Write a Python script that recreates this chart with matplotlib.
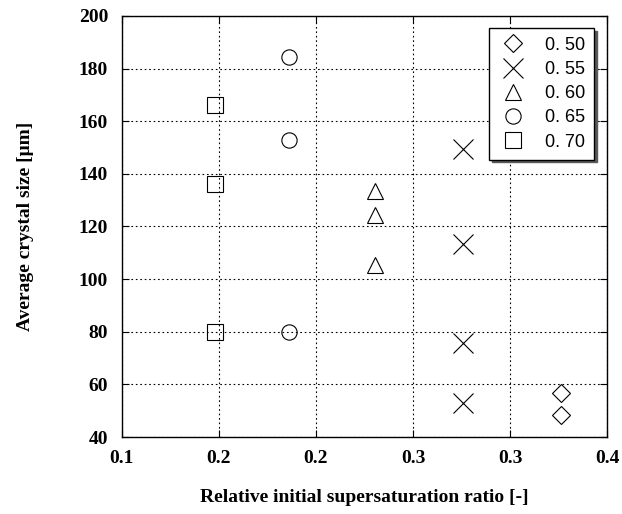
import matplotlib
matplotlib.use("Agg")
import matplotlib.pyplot as plt
from matplotlib.ticker import FixedLocator, FuncFormatter

# data
labels = ["0. 50", "0. 55", "0. 60", "0. 65", "0. 70"]
x_050 = [0.3715, 0.3715]
y_050 = [56.7, 48.5]
x_055 = [0.311, 0.311, 0.311, 0.311]
y_055 = [149.4, 113.3, 75.8, 53.0]
x_060 = [0.2565, 0.2565, 0.2565]
y_060 = [133.5, 124.5, 105.5]
x_065 = [0.2035, 0.2035, 0.2035]
y_065 = [184.3, 153.0, 80.0]
x_070 = [0.1575, 0.1575, 0.1575]
y_070 = [166.3, 136.0, 80.0]
xticks = [0.10, 0.16, 0.22, 0.28, 0.34, 0.40]
yticks = [40, 60, 80, 100, 120, 140, 160, 180, 200]

fig = plt.figure(figsize=(6.22, 5.14), dpi=100)
ax = fig.add_axes([0.196, 0.1498, 0.78, 0.8191])

common = dict(linestyle="none", markerfacecolor="none", markeredgecolor="black", color="black")
ax.plot(x_050, y_050, marker="D", markersize=9, markeredgewidth=0.8, label=labels[0], **common)
ax.plot(x_055, y_055, marker="x", markersize=14, markeredgewidth=0.8, label=labels[1], **common)
ax.plot(x_060, y_060, marker="^", markersize=11, markeredgewidth=0.8, label=labels[2], **common)
ax.plot(x_065, y_065, marker="o", markersize=11, markeredgewidth=0.8, label=labels[3], **common)
ax.plot(x_070, y_070, marker="s", markersize=11, markeredgewidth=0.8, label=labels[4], **common)

ax.set_xlim(0.1, 0.4)
ax.set_ylim(40, 200)
ax.xaxis.set_major_locator(FixedLocator(xticks))
ax.yaxis.set_major_locator(FixedLocator(yticks))
ax.xaxis.set_major_formatter(FuncFormatter(lambda v, p: f"{v:.1f}"))
ax.yaxis.set_major_formatter(FuncFormatter(lambda v, p: f"{v:.0f}"))
ax.grid(True, linestyle=(0, (1.5, 2.5)), color="black", linewidth=0.8)
ax.tick_params(direction="in", top=True, right=True, length=5, width=0.8)
ax.tick_params(axis="x", pad=9)
ax.tick_params(axis="y", pad=10)
for s in ax.spines.values():
    s.set_linewidth(1.0)

serif = ["Liberation Serif", "DejaVu Serif"]
for lab in ax.get_xticklabels() + ax.get_yticklabels():
    lab.set_fontfamily(serif)
    lab.set_fontweight("bold")
    lab.set_fontsize(14)

ax.set_xlabel("Relative initial supersaturation ratio [-]", family=serif, fontweight="bold",
              fontsize=14, labelpad=16)
ax.set_ylabel("Average crystal size [μm]", family=serif, fontweight="bold", fontsize=14,
              labelpad=32)

leg = ax.legend(loc="upper right", bbox_to_anchor=(0.974, 0.972), frameon=True, fancybox=False,
                shadow={"color": "0.35", "alpha": 1.0, "ox": 2, "oy": -2}, edgecolor="black",
                framealpha=1, prop={"family": "Liberation Sans", "size": 13},
                handletextpad=1.0, borderpad=0.5, labelspacing=0.4, handlelength=1.6,
                borderaxespad=0)
leg.get_frame().set_linewidth(1.0)

fig.savefig("out.png", dpi=100)
